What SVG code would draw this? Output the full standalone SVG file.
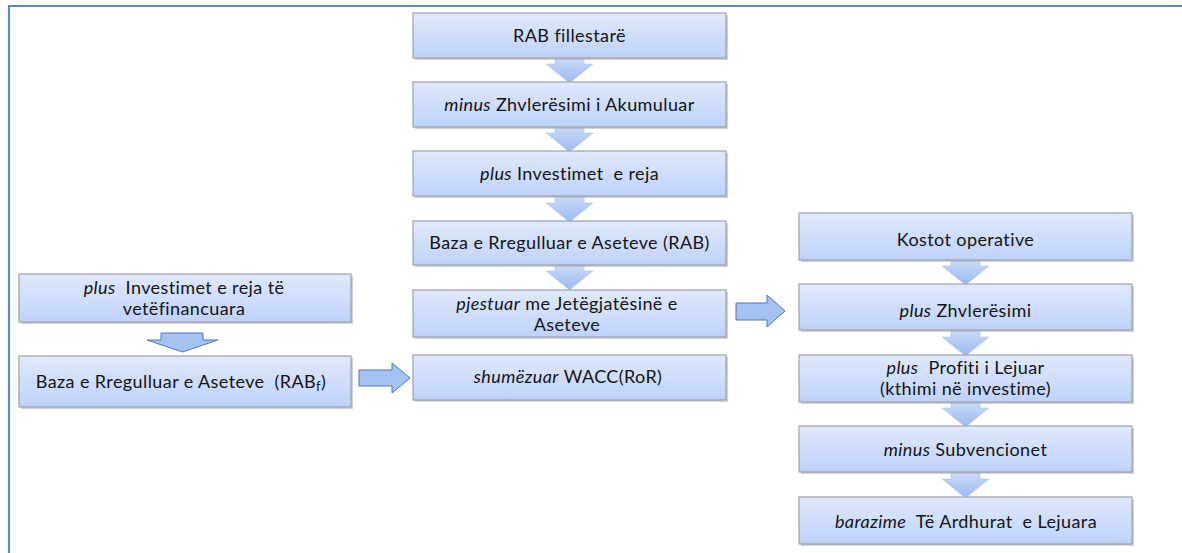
<svg xmlns="http://www.w3.org/2000/svg" width="1182" height="553" viewBox="0 0 1182 553">
<defs>
<linearGradient id="gBox" x1="0" y1="0" x2="0" y2="1">
<stop offset="0" stop-color="#e0e9fc"/>
<stop offset="1" stop-color="#bed2fa"/>
</linearGradient>
<linearGradient id="gArr" x1="0" y1="0" x2="0" y2="1">
<stop offset="0" stop-color="#cddcf8"/>
<stop offset="1" stop-color="#9ab9f0"/>
</linearGradient>
</defs>
<style>
.bx{fill:url(#gBox);stroke:#9ca1aa;stroke-width:1.2}
.sh{fill:#a9abae;opacity:0.55}
.da{fill:url(#gArr);stroke:#b4c8ea;stroke-width:0.6}
.oa{fill:#a5c3f1;stroke:#4b78b8;stroke-width:1}
text{font-family:Lato,"Liberation Sans",sans-serif;font-size:18px;letter-spacing:0.4px;font-variant-ligatures:none;fill:#141414;text-anchor:middle}
.i{font-style:italic}
</style>
<rect width="1182" height="553" fill="#ffffff"/>
<path d="M9,553 V6 H1182" fill="none" stroke="#5a88c8" stroke-width="2.2"/>

<g id="connectors">
<path class="da" d="M555,57 H584 V64 H593 L569.5,83 L546,64 H555 Z"/>
<path class="da" d="M555,126 H584 V133 H593 L569.5,152 L546,133 H555 Z"/>
<path class="da" d="M555,195 H584 V203 H593 L569.5,222 L546,203 H555 Z"/>
<path class="da" d="M555,264 H584 V271 H593 L569.5,290 L546,271 H555 Z"/>
<path class="da" d="M951,259 H980 V266 H989 L965.5,285 L942,266 H951 Z"/>
<path class="da" d="M951,329 H980 V337 H989 L965.5,356 L942,337 H951 Z"/>
<path class="da" d="M951,401 H980 V408 H989 L965.5,427 L942,408 H951 Z"/>
<path class="da" d="M951,471 H980 V479 H989 L965.5,498 L942,479 H951 Z"/>
<path class="oa" d="M161,333 H203 V340 H218 L182.5,352 L147,340 H161 Z"/>
<path class="oa" d="M736,303 H767 V295 L785,311 L767,327 V320 H736 Z"/>
<path class="oa" d="M359,370 H392 V363 L410,378 L392,393 V386 H359 Z"/>
</g>

<g id="n1"><rect class="sh" x="415" y="15" width="313" height="45"/><rect class="bx" x="413" y="13" width="313" height="45"/><text x="569.5" y="42">RAB fillestarë</text></g>
<g id="n2"><rect class="sh" x="415" y="84" width="313" height="45"/><rect class="bx" x="413" y="82" width="313" height="45"/><text x="569.5" y="111"><tspan class="i">minus</tspan> Zhvlerësimi i Akumuluar</text></g>
<g id="n3"><rect class="sh" x="415" y="153" width="313" height="45"/><rect class="bx" x="413" y="151" width="313" height="45"/><text x="569.5" y="180" xml:space="preserve"><tspan class="i">plus</tspan> Investimet  e reja</text></g>
<g id="n4"><rect class="sh" x="415" y="223" width="313" height="44"/><rect class="bx" x="413" y="221" width="313" height="44"/><text x="569.5" y="249">Baza e Rregulluar e Aseteve (RAB)</text></g>
<g id="n5"><rect class="sh" x="415" y="292" width="313" height="47"/><rect class="bx" x="413" y="290" width="313" height="47"/><text x="567" y="310"><tspan class="i">pjestuar</tspan> me Jetëgjatësinë e</text><text x="567" y="331">Aseteve</text></g>
<g id="n6"><rect class="sh" x="415" y="357" width="313" height="45"/><rect class="bx" x="413" y="355" width="313" height="45"/><text x="568" y="383"><tspan class="i">shumëzuar</tspan> WACC(RoR)</text></g>

<g id="n7"><rect class="sh" x="21" y="276" width="332" height="48"/><rect class="bx" x="19" y="274" width="332" height="48"/><text x="184" y="294" xml:space="preserve"><tspan class="i">plus</tspan>  Investimet e reja të</text><text x="184" y="315">vetëfinancuara</text></g>
<g id="n8"><rect class="sh" x="21" y="358" width="332" height="51"/><rect class="bx" x="19" y="356" width="332" height="51"/><text x="181" y="388" xml:space="preserve">Baza e Rregulluar e Aseteve  (RAB<tspan font-size="13" dy="3">f</tspan><tspan dy="-3">)</tspan></text></g>

<g id="n9"><rect class="sh" x="801" y="215" width="333" height="47"/><rect class="bx" x="799" y="213" width="333" height="47"/><text x="965.5" y="246">Kostot operative</text></g>
<g id="n10"><rect class="sh" x="801" y="286" width="333" height="46"/><rect class="bx" x="799" y="284" width="333" height="46"/><text x="965.5" y="317"><tspan class="i">plus</tspan> Zhvlerësimi</text></g>
<g id="n11"><rect class="sh" x="801" y="357" width="333" height="47"/><rect class="bx" x="799" y="355" width="333" height="47"/><text x="965.5" y="374" xml:space="preserve"><tspan class="i">plus</tspan>  Profiti i Lejuar</text><text x="965.5" y="395">(kthimi në investime)</text></g>
<g id="n12"><rect class="sh" x="801" y="428" width="333" height="46"/><rect class="bx" x="799" y="426" width="333" height="46"/><text x="965.5" y="456"><tspan class="i">minus</tspan> Subvencionet</text></g>
<g id="n13"><rect class="sh" x="801" y="499" width="333" height="47"/><rect class="bx" x="799" y="497" width="333" height="47"/><text x="966" y="528" xml:space="preserve"><tspan class="i">barazime</tspan>  Të Ardhurat  e Lejuara</text></g>
</svg>
